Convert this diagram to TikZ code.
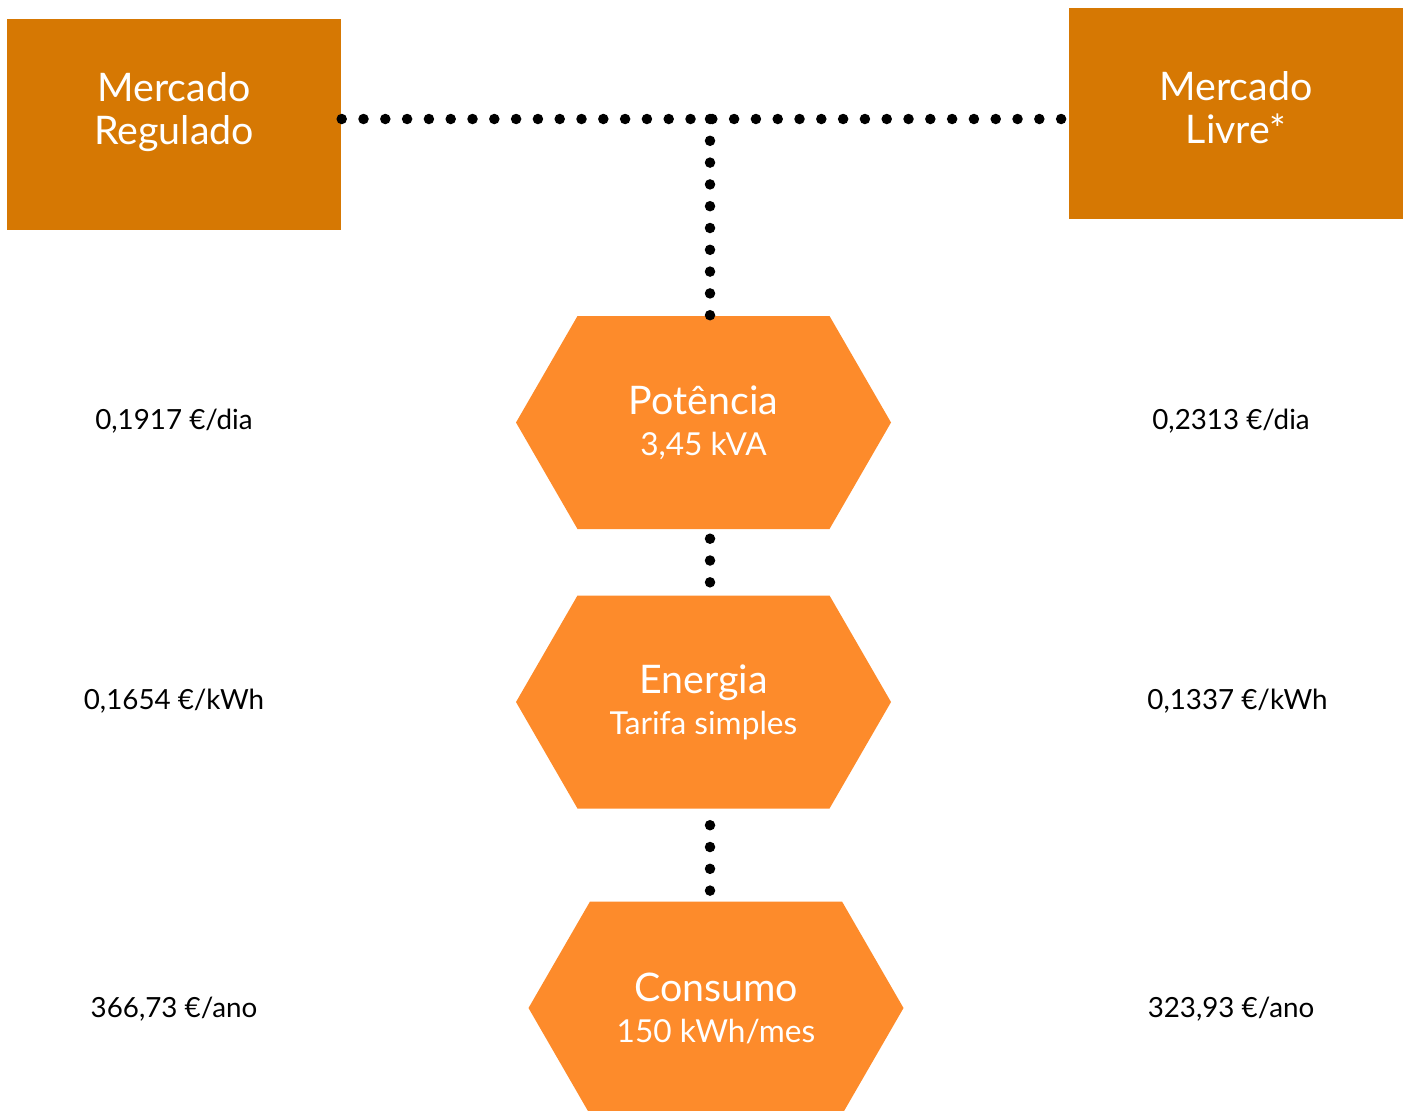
\documentclass[tikz,border=0pt]{standalone}
\usepackage{fontspec}
\setmainfont{Lato}
\usetikzlibrary{shapes.symbols}

\definecolor{boxorange}{HTML}{D67803}
\definecolor{hexorange}{HTML}{FD8B2B}

\newcommand{\mainsz}{\fontsize{11.2}{12.5}\selectfont}
\newcommand{\subsz}{\fontsize{9}{11.7}\selectfont}
\newcommand{\valsz}{\fontsize{7.9}{9}\selectfont}

\tikzset{
	marketbox/.style={rectangle, fill=boxorange, minimum width=3.34cm, minimum height=2.11cm, inner sep=0, text=white, align=center, font=\mainsz},
	hexbox/.style={signal, signal to=west and east, signal pointer angle=120, fill=hexorange, minimum width=3.75cm, minimum height=2.13cm, inner sep=0, text=white, align=center, font=\subsz},
	pricetxt/.style={font=\valsz, inner sep=0},
	dotline/.style={line width=0.105cm, line cap=round, dash pattern=on 0pt off 0.218cm}
}

\begin{document}
\begin{tikzpicture}
	\useasboundingbox (0,0) rectangle (14.07,11.10);
	
	%Markets
	\node[marketbox, text depth=0.32cm] (mreg) at (1.74,9.855) {Mercado\\Regulado};
	\node[marketbox, text depth=0.12cm] (mliv) at (12.36,9.965) {Mercado\\Livre*};
	
	%Hexagons
	\node[hexbox] (pot) at (7.035,6.875) {{\mainsz Potência}\\3,45 kVA};
	\node[hexbox] (ene) at (7.035,4.08) {{\mainsz Energia}\\Tarifa simples};
	\node[hexbox] (con) at (7.16,1.02) {{\mainsz Consumo}\\150 kWh/mes};
	
	%Dotted connectors
	\coordinate (jn) at (7.10,9.91);
	\draw[dotline] (mreg.east |- jn) -- (mliv.west |- jn);
	\draw[dotline] (jn) -- (jn |- pot.north);
	\draw[dotline, dash phase=0.128cm] (pot.south -| jn) -- (ene.north -| jn);
	\draw[dotline, dash phase=0.058cm] (ene.south -| jn) -- (con.north -| jn);
	
	%Prices
	\node[pricetxt] (preg1) at (1.74,6.89) {0,1917 €/dia};
	\node[pricetxt] (preg2) at (1.74,4.09) {0,1654 €/kWh};
	\node[pricetxt] (preg3) at (1.74,1.01) {366,73 €/ano};
	\node[pricetxt] (pliv1) at (12.31,6.89) {0,2313 €/dia};
	\node[pricetxt] (pliv2) at (12.375,4.09) {0,1337 €/kWh};
	\node[pricetxt] (pliv3) at (12.31,1.01) {323,93 €/ano};
\end{tikzpicture}
\end{document}
